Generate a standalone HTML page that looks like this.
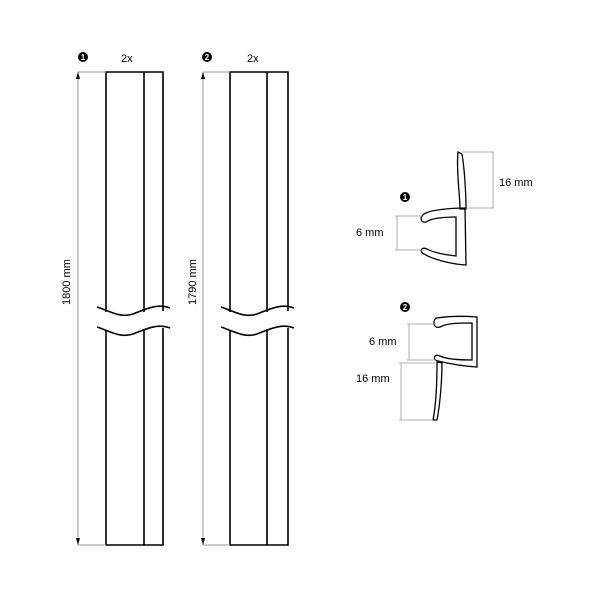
<!DOCTYPE html>
<html><head><style>body{margin:0;background:#fff}svg{display:block}</style></head><body>
<svg width="600" height="600" viewBox="0 0 600 600" xmlns="http://www.w3.org/2000/svg" font-family="Liberation Sans, sans-serif">
<rect width="600" height="600" fill="#fff"/>
<g stroke="#000" stroke-width="1.6" fill="none">
<!-- bar 1 -->
<path d="M106,312 V72 H163 V311 M144,72 V312"/>
<path d="M106,330 V545 H163 V328 M144,329 V545"/>
<path d="M97,307 C112,312 120,318 133,314 C146,309 158,303 170,308"/>
<path d="M97,327 C112,332 120,338 133,334 C146,329 158,323 170,328"/>
<!-- bar 2 -->
<path d="M230,312 V72 H288 V311 M267,72 V312"/>
<path d="M230,330 V545 H288 V328 M267,329 V545"/>
<path d="M221,307 C236,312 244,318 257,314 C270,309 282,303 294,308"/>
<path d="M221,327 C236,332 244,338 257,334 C270,329 282,323 294,328"/>
</g>
<g stroke="#999" stroke-width="1" fill="none">
<path d="M78,72 V545 M78,72 H106 M78,545 H106"/>
<path d="M203,72 V545 M203,72 H230 M203,545 H230"/>
</g>
<g fill="#000"><path d="M78,72 l-2,7 h4z M78,545 l-2,-7 h4z M203,72 l-2,7 h4z M203,545 l-2,-7 h4z"/></g>
<g fill="#000">
<circle cx="83" cy="57" r="5"/><circle cx="207" cy="57" r="5"/>
<circle cx="405" cy="197" r="5"/><circle cx="405" cy="307" r="5"/>
</g>
<g fill="#fff" font-size="8" font-weight="bold" text-anchor="middle">
<text x="83" y="60">1</text><text x="207" y="60">2</text><text x="405" y="200">1</text><text x="405" y="310">2</text>
</g>
<g font-size="11" fill="#000">
<text x="121" y="62">2x</text><text x="247" y="62">2x</text>
<text transform="translate(70,305) rotate(-90)">1800 mm</text>
<text transform="translate(196,305) rotate(-90)">1790 mm</text>
<text x="499" y="186">16 mm</text>
<text x="356" y="236">6 mm</text>
<text x="369" y="345">6 mm</text>
<text x="356" y="382">16 mm</text>
</g>
<!-- profile 1 -->
<g stroke="#000" stroke-width="1.3" fill="none">
<path d="M458,152 C456,170 460,195 460,209 L466,209 C466,190 464,165 462,154 Z"/>
<path d="M465,208 C450,208 430,210 424,214 C419,218 421,223 426,222 C432,218 445,217 456,217 L456,256 C445,255 432,252 427,249 C421,246 419,252 424,254 C432,259 450,264 466,265 Z"/>
<path d="M436,318 C450,316 465,316 477,317 L477,367 C462,366 446,363 438,361 C432,360 434,353 440,356 C446,359 458,360 472,360 L472,323 C460,323 447,323 440,327 C434,329 432,322 436,318 Z"/>
<path d="M437,362 C437,380 436,405 433,420 L437,420 C440,405 442,380 442,363 Z"/>
</g>
<g stroke="#999" stroke-width="0.8" fill="none">
<path d="M462,152 H494 M466,208 H494 M493,152 V208"/>
<path d="M395,216 H424 M395,250 H424 M397,216 V250"/>
<path d="M407,324 H436 M407,360 H436 M409,324 V360"/>
<path d="M399,363 H437 M399,420 H433 M401,363 V420"/>
</g>
</svg>
</body></html>
